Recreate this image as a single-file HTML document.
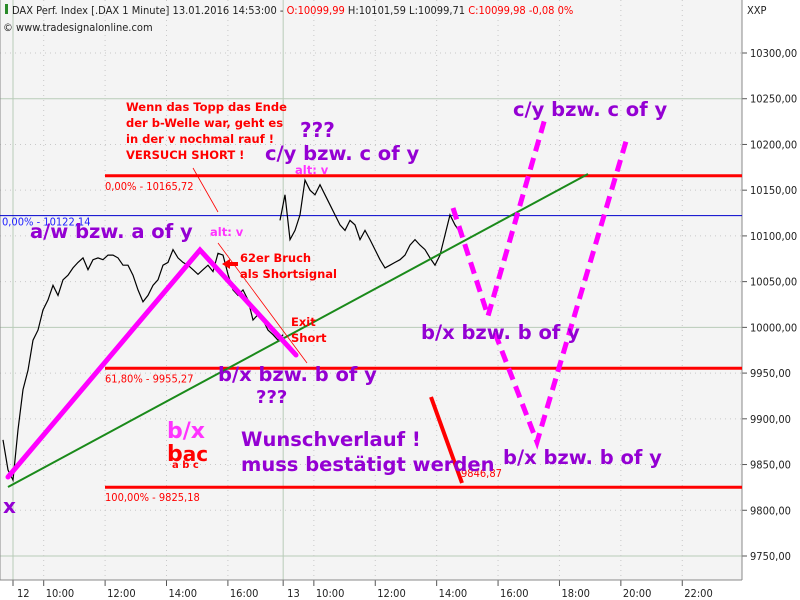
<!DOCTYPE html>
<html><head><meta charset="utf-8"><style>
body{margin:0;background:#fff;}
svg{display:block;font-family:"Liberation Sans",sans-serif;}
.ax{font-size:11px;fill:#222;font-family:"DejaVu Sans Condensed","Liberation Sans",sans-serif;}
.big{font-weight:bold;fill:#9400d3;font-family:"DejaVu Sans","Liberation Sans",sans-serif;}
.rd{fill:#ff0000;font-weight:bold;font-family:"DejaVu Sans","Liberation Sans",sans-serif;font-size:11.5px;}
.fl{fill:#ff0000;font-size:11px;font-family:"DejaVu Sans Condensed","Liberation Sans",sans-serif;}
</style></head><body>
<svg id="chart" width="800" height="600" viewBox="0 0 800 600">
<rect x="0" y="0" width="800" height="600" fill="#fff"/>
<rect x="0" y="0" width="742" height="580" fill="#f4f4f4"/>
<g id="grid"></g>
<g id="yaxis"></g>
<g id="xaxis"></g>
<line x1="742" y1="0" x2="742" y2="580" stroke="#888"/>
<line x1="0" y1="580" x2="742" y2="580" stroke="#888"/>
<line x1="0" y1="0" x2="0" y2="580" stroke="#888"/>
<g id="lines"></g>
<g id="price"></g>
<g id="ann"></g>
<g>
<rect x="5" y="4" width="3" height="10" fill="#2a8a2a"/>
<text x="12" y="14" class="ax">DAX Perf. Index [.DAX  1 Minute] 13.01.2016 14:53:00 - <tspan fill="#f00">O:10099,99</tspan> H:10101,59 L:10099,71 <tspan fill="#f00">C:10099,98 -0,08 0%</tspan></text>
<text x="3" y="31" class="ax">© www.tradesignalonline.com</text>
<text x="747" y="14" class="ax">XXP</text>
</g>
</svg>
<script>
const priceTicks=[9750,9800,9850,9900,9950,10000,10050,10100,10150,10200,10250,10300];
const timeTicks=["12","10:00","12:00","14:00","16:00","13","10:00","12:00","14:00","16:00","18:00","20:00","22:00"];
const timeTickHours=[0,1,3,5,7,8.8,9.8,11.8,13.8,15.8,17.8,19.8,21.8];
const day1Prices=[9877,9844,9833,9888,9932,9953,9986,9997,10019,10030,10046,10035,10052,10057,10065,10071,10076,10063,10074,10076,10074,10079,10079,10076,10068,10068,10057,10041,10028,10035,10046,10052,10068,10071,10085,10076,10071,10068,10063,10058,10063,10068,10061,10081,10079,10058,10041,10035,10041,10030,10008,10014,10008,9997,9992,9986,9992];
const day2Prices=[10117,10145,10096,10106,10123,10161,10150,10145,10156,10145,10134,10123,10112,10106,10117,10112,10096,10106,10096,10085,10074,10065,10068,10071,10074,10079,10090,10096,10090,10085,10076,10068,10079,10101,10123,10112,10104];
const fibLevels=[10165.72,9955.27,9825.18];
const fibLabels=["0,00% - 10165,72","61,80% - 9955,27","100,00% - 9825,18"];
const blueLevel=10122.14;
const NS="http://www.w3.org/2000/svg";
function y(p){return 556-(p-9750)*0.91455;}
function xh(h){return 13+h*30.7;}
function mk(tag,attrs,parent,txt){const e=document.createElementNS(NS,tag);for(const k in attrs)e.setAttribute(k,attrs[k]);if(txt!==undefined)e.textContent=txt;document.getElementById(parent).appendChild(e);return e;}
priceTicks.forEach(p=>{
 const solid=(p%250===0);
 const g=mk('line',{x1:0,x2:742,y1:y(p),y2:y(p),stroke:solid?'#b8cbb8':'#c8c8c8','stroke-dasharray':solid?'':'1,4'},'grid');
 
 
 mk('line',{x1:742,x2:747,y1:y(p),y2:y(p),stroke:'#555'},'yaxis');
 const t=mk('text',{x:750,y:y(p)+4,class:'ax'},'yaxis',p.toFixed(2).replace('.',','));
 
 
});
timeTicks.forEach((l,i)=>{
 const xx=xh(timeTickHours[i]);
 const solid=(l==="12"||l==="13");
 const g=mk('line',{x1:xx,x2:xx,y1:0,y2:580,stroke:solid?'#b8cbb8':'#c8c8c8','stroke-dasharray':solid?'':'1,4'},'grid');
 
 
 mk('line',{x1:xx,x2:xx,y1:580,y2:586,stroke:'#555'},'xaxis');
 const t=mk('text',{x:xx+(l.length<3?4:2),y:597,class:'ax'},'xaxis',l);
 
 
});
fibLevels.forEach((p,i)=>{
 const l=mk('line',{x1:105,x2:742,y1:y(p),y2:y(p),stroke:'#ff0000','stroke-width':3},'lines');
 
 
 const t=mk('text',{x:105,y:y(p)+14,class:'fl'},'lines',fibLabels[i]);
 
 
});
const bl=mk('line',{x1:0,x2:742,y1:y(blueLevel),y2:y(blueLevel),stroke:'#0000cc','stroke-width':1},'lines');


const btx=mk('text',{x:2,y:y(blueLevel)+10,class:'ax',style:'fill:#2020ff'},'lines','0,00% - 10122,14');


function pts(arr,x0,step){return arr.map((p,i)=>(x0+i*step).toFixed(1)+','+y(p).toFixed(1)).join(' ');}
const p1=mk('polyline',{points:pts(day1Prices,3,5),fill:'none',stroke:'#000','stroke-width':1.2},'price');


const p2=mk('polyline',{points:pts(day2Prices,280,5),fill:'none',stroke:'#000','stroke-width':1.2},'price');


</script>
<script>
(function(){
const A=document.getElementById('ann');
A.insertAdjacentHTML('beforeend',`
<line x1="8" y1="487" x2="588" y2="174" stroke="#1a8a1a" stroke-width="2"/>
<polyline points="8,477 200,250 296,355" fill="none" stroke="#ff00ff" stroke-width="5" stroke-linecap="round"/>
<line x1="193" y1="168" x2="218" y2="212" stroke="#f00" stroke-width="0.8"/>
<line x1="218" y1="243" x2="307" y2="363" stroke="#f00" stroke-width="0.8"/>
<polygon points="222,264 230,259 230,262 238,262 238,266 230,266 230,269" fill="#f00"/>
<polyline points="453,208 488,316 546,115" fill="none" stroke="#ff00ff" stroke-width="5" stroke-dasharray="12,7"/>
<polyline points="495,333 537,442 627,138" fill="none" stroke="#ff00ff" stroke-width="5" stroke-dasharray="12,7"/>
<line x1="431" y1="397" x2="462" y2="483" stroke="#f00" stroke-width="4"/>
<text x="461" y="477" class="fl">9846,87</text>
<text x="126" y="111" class="rd">Wenn das Topp das Ende</text>
<text x="126" y="127" class="rd">der b-Welle war, geht es</text>
<text x="126" y="143" class="rd">in der v nochmal rauf !</text>
<text x="126" y="159" class="rd">VERSUCH SHORT !</text>
<text x="300" y="137" class="big" font-size="20">???</text>
<text x="265" y="160" class="big" font-size="19.5">c/y bzw. c of y</text>
<text x="295" y="174" class="rd" style="fill:#ff33ff">alt: v</text>
<text x="30" y="238" class="big" font-size="19.5">a/w bzw. a of y</text>
<text x="210" y="236" class="rd" style="fill:#ff33ff">alt: v</text>
<text x="240" y="262" class="rd">62er Bruch</text>
<text x="240" y="278" class="rd">als Shortsignal</text>
<text x="291" y="326" class="rd">Exit</text>
<text x="291" y="342" class="rd">Short</text>
<text x="218" y="381" class="big" font-size="19.5">b/x bzw. b of y</text>
<text x="256" y="403" class="big" font-size="18">???</text>
<text x="513" y="116" class="big" font-size="19.5">c/y bzw. c of y</text>
<text x="421" y="339" class="big" font-size="19.5">b/x bzw. b of y</text>
<text x="503" y="464" class="big" font-size="19.5">b/x bzw. b of y</text>
<text x="167" y="438" class="big" font-size="22" style="fill:#ff33ff">b/x</text>
<text x="167" y="461" class="big" font-size="22" style="fill:#ff0000">b<tspan font-size="20">a</tspan><tspan font-size="20">c</tspan></text>
<text x="172" y="468" class="rd" style="font-size:10px">a  b  c</text>
<text x="241" y="446" class="big" font-size="19.5">Wunschverlauf !</text>
<text x="241" y="471" class="big" font-size="19.5">muss bestätigt werden</text>
<text x="3" y="513" class="big" font-size="20">x</text>
`);
})();
</script>
</body></html>
